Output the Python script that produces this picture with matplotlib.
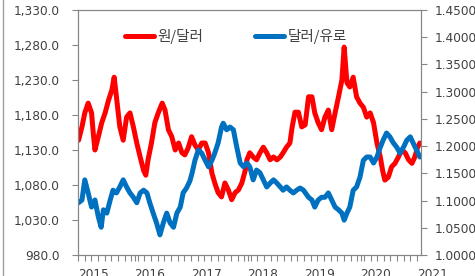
import matplotlib
matplotlib.use("Agg")
import matplotlib.pyplot as plt
import numpy as np
from matplotlib.lines import Line2D

# ---- data ----
krw_t = [2015.01, 2015.07, 2015.12, 2015.18, 2015.24, 2015.27, 2015.30, 2015.36, 2015.42, 2015.48,
         2015.54, 2015.60, 2015.64, 2015.68, 2015.74, 2015.80, 2015.86, 2015.92, 2015.98, 2016.04,
         2016.10, 2016.16, 2016.20, 2016.24, 2016.30, 2016.36, 2016.42, 2016.49, 2016.54, 2016.60,
         2016.66, 2016.72, 2016.78, 2016.84, 2016.89, 2016.95, 2017.01, 2017.07, 2017.13, 2017.19,
         2017.25, 2017.31, 2017.37, 2017.42, 2017.48, 2017.54, 2017.60, 2017.66, 2017.72, 2017.78,
         2017.84, 2017.90, 2017.96, 2017.99, 2018.04, 2018.10, 2018.16, 2018.22, 2018.28, 2018.34,
         2018.40, 2018.46, 2018.52, 2018.58, 2018.63, 2018.69, 2018.75, 2018.79, 2018.84, 2018.90,
         2018.96, 2019.02, 2019.08, 2019.14, 2019.19, 2019.25, 2019.31, 2019.37, 2019.43, 2019.49,
         2019.55, 2019.61, 2019.67, 2019.71, 2019.76, 2019.81, 2019.87, 2019.93, 2019.99, 2020.05,
         2020.11, 2020.17, 2020.23, 2020.29, 2020.35, 2020.39, 2020.43, 2020.49, 2020.55, 2020.61,
         2020.67, 2020.73, 2020.79, 2020.85, 2020.91, 2020.96, 2021.01, 2021.05]
krw_usd = [1144, 1163, 1183, 1197, 1183, 1154, 1130, 1149, 1169, 1183,
           1201, 1216, 1234, 1206, 1163, 1144, 1177, 1183, 1163, 1140,
           1120, 1101, 1094, 1116, 1140, 1169, 1183, 1197, 1187, 1159,
           1149, 1130, 1140, 1126, 1123, 1133, 1149, 1137, 1130, 1140,
           1140, 1126, 1097, 1083, 1069, 1063, 1083, 1073, 1059, 1069,
           1073, 1083, 1101, 1116, 1126, 1120, 1116, 1126, 1134, 1126,
           1116, 1120, 1116, 1120, 1126, 1134, 1140, 1163, 1184, 1184,
           1163, 1166, 1206, 1206, 1183, 1169, 1159, 1177, 1187, 1159,
           1183, 1206, 1230, 1277, 1226, 1220, 1234, 1206, 1197, 1191,
           1177, 1183, 1169, 1140, 1120, 1101, 1087, 1091, 1106, 1111,
           1120, 1130, 1126, 1116, 1111, 1120, 1134, 1140]

usd_t = [2015.01, 2015.07, 2015.12, 2015.18, 2015.24, 2015.30, 2015.36, 2015.41, 2015.45, 2015.51,
         2015.57, 2015.62, 2015.68, 2015.74, 2015.80, 2015.86, 2015.92, 2015.98, 2016.04, 2016.10,
         2016.16, 2016.22, 2016.27, 2016.33, 2016.39, 2016.45, 2016.51, 2016.57, 2016.63, 2016.69,
         2016.75, 2016.81, 2016.86, 2016.92, 2016.98, 2017.02, 2017.07,
         2017.13, 2017.19, 2017.25, 2017.31, 2017.37, 2017.42, 2017.48, 2017.54, 2017.57, 2017.63,
         2017.69, 2017.75, 2017.81, 2017.87, 2017.93, 2017.99, 2018.04, 2018.10, 2018.16, 2018.22,
         2018.28, 2018.34, 2018.40, 2018.46, 2018.52, 2018.58, 2018.63, 2018.69, 2018.75, 2018.81,
         2018.87, 2018.93, 2018.99,
         2019.08, 2019.14, 2019.19, 2019.25, 2019.31, 2019.37, 2019.43, 2019.49, 2019.55, 2019.61,
         2019.67, 2019.71, 2019.76, 2019.81, 2019.87, 2019.93, 2019.99, 2020.05, 2020.11, 2020.17,
         2020.23, 2020.29, 2020.35, 2020.40, 2020.46, 2020.52, 2020.58, 2020.64, 2020.70, 2020.76,
         2020.82, 2020.88, 2020.93, 2020.99, 2021.05]
usd_eur = [1.096, 1.101, 1.138, 1.114, 1.088, 1.101, 1.070, 1.051, 1.083, 1.077,
           1.101, 1.119, 1.114, 1.125, 1.138, 1.125, 1.114, 1.106, 1.096, 1.114,
           1.119, 1.114, 1.096, 1.077, 1.059, 1.037, 1.059, 1.077, 1.059, 1.051,
           1.077, 1.088, 1.114, 1.123, 1.136, 1.151, 1.174,
           1.193, 1.187, 1.174, 1.162, 1.174, 1.187, 1.206, 1.235, 1.242, 1.230,
           1.235, 1.230, 1.198, 1.169, 1.162, 1.169, 1.162, 1.138, 1.156, 1.151,
           1.138, 1.125, 1.132, 1.138, 1.132, 1.125, 1.119, 1.125, 1.119, 1.114,
           1.119, 1.123, 1.119,
           1.106, 1.101, 1.088, 1.101, 1.106, 1.106, 1.114, 1.101, 1.088, 1.083,
           1.077, 1.064, 1.077, 1.088, 1.119, 1.125, 1.143, 1.174, 1.180, 1.180,
           1.169, 1.180, 1.198, 1.211, 1.224, 1.217, 1.206, 1.198, 1.187, 1.198,
           1.211, 1.217, 1.206, 1.193, 1.180]

year_labels = ["2015", "2016", "2017", "2018", "2019", "2020", "2021"]
left_ticks = [980, 1030, 1080, 1130, 1180, 1230, 1280, 1330]
right_ticks = [1.00, 1.05, 1.10, 1.15, 1.20, 1.25, 1.30, 1.35, 1.40, 1.45]
series_names = ["원/달러", "달러/유로"]

# ---- style ----
W, H = 475, 276
fig = plt.figure(figsize=(W / 100, H / 100), dpi=100)
L, R, T, B = 78, 421, 10, 255
ax = fig.add_axes([L / W, 1 - B / H, (R - L) / W, (B - T) / H])
ax2 = ax.twinx()

spine_c = "#868686"
text_c = "#404040"
red = "#FF0000"
blue = "#0070C0"
lw = 3.6

ax.plot(krw_t, krw_usd, color=red, lw=lw, solid_joinstyle="round", solid_capstyle="round")
ax2.plot(usd_t, usd_eur, color=blue, lw=lw, solid_joinstyle="round", solid_capstyle="round")

ax.set_xlim(2015.0, 2021.07)
ax.set_ylim(980, 1330)
ax2.set_ylim(1.0, 1.45)

ax.set_yticks(left_ticks)
ax.set_yticklabels([f"{v:,.1f}" for v in left_ticks])
ax2.set_yticks(right_ticks)
ax2.set_yticklabels([f"{v:.4f}" for v in right_ticks])

years = [int(y) for y in year_labels]
ax.set_xticks(years)
ax.set_xticklabels(year_labels)
for lab in ax.get_xticklabels():
    lab.set_ha("left")
ax.set_xticks(np.arange(2015.0, 2021.07, 1 / 8.5), minor=True)

for a in (ax, ax2):
    for s in a.spines.values():
        s.set_color(spine_c)
        s.set_linewidth(0.8)

fs = 8.7
ax.tick_params(axis="y", which="major", direction="out", length=4, width=0.8,
               color=spine_c, labelcolor=text_c, labelsize=fs, pad=9)
ax.tick_params(axis="x", which="both", direction="out", length=4, width=0.8,
               color=spine_c, labelcolor=text_c, labelsize=fs, pad=5)
ax2.tick_params(axis="y", which="major", direction="out", length=4, width=0.8,
                color=spine_c, labelcolor=text_c, labelsize=fs, pad=6)

# legend
handles = [Line2D([], [], color=red, lw=lw, solid_capstyle="round"),
           Line2D([], [], color=blue, lw=lw, solid_capstyle="round")]
lfs = 10.5
leg = ax2.legend(handles, series_names, loc="center left",
                 bbox_to_anchor=((125 - L) / (R - L), (B - 37) / (B - T)),
                 ncol=2, frameon=False, borderpad=0, borderaxespad=0,
                 handlelength=2.0, handletextpad=0.25, columnspacing=3.5,
                 prop={"family": ["Noto Sans CJK KR", "DejaVu Sans"], "size": lfs})
for t in leg.get_texts():
    t.set_color(text_c)

# outer chart border (left edge visible in the reference)
fig.add_artist(Line2D([2.5 / W, 2.5 / W], [0, 1], transform=fig.transFigure,
                      color="#a0a0a0", lw=1.0))

fig.savefig("out.png", dpi=100)
